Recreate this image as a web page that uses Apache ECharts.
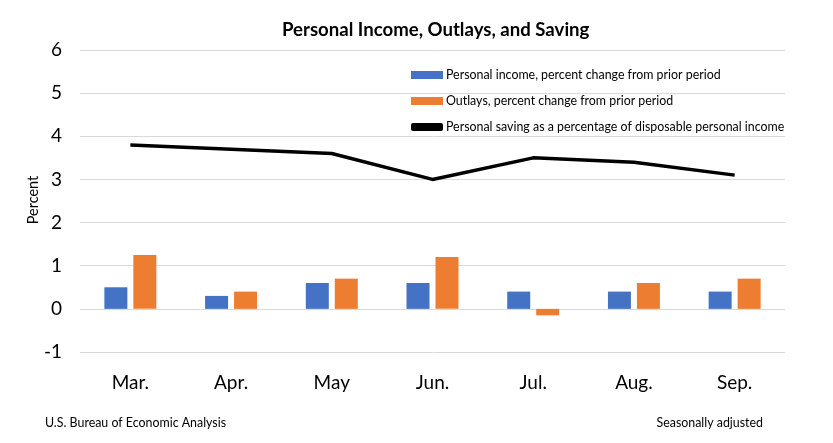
<!DOCTYPE html>
<html><head><meta charset="utf-8">
<script src="https://cdn.jsdelivr.net/npm/echarts@6/dist/echarts.min.js"></script>
<style>html,body{margin:0;padding:0;background:#fff}#c{width:833px;height:443px}</style>
</head><body><div id="c"></div>
<script>
const categories = ['Mar.', 'Apr.', 'May', 'Jun.', 'Jul.', 'Aug.', 'Sep.'];
const incomeChange = [0.5, 0.3, 0.6, 0.6, 0.4, 0.4, 0.4];
const outlaysChange = [1.25, 0.4, 0.7, 1.2, -0.15, 0.6, 0.7];
const savingRate = [3.8, 3.7, 3.6, 3.0, 3.5, 3.4, 3.1];
const yTicks = [-1, 0, 1, 2, 3, 4, 5, 6];

const font = 'Lato, "Open Sans", sans-serif';
const chart = echarts.init(document.getElementById('c'));
chart.setOption({
  animation: false,
  textStyle: { fontFamily: font },
  title: {
    text: 'Personal Income, Outlays, and Saving',
    left: 277, top: 15,
    textStyle: { fontSize: 18.6, fontWeight: 'bold', color: '#000', fontFamily: font }
  },
  graphic: [
    { type: 'text', left: 45, top: 417, style: { text: 'U.S. Bureau of Economic Analysis', fontSize: 12.4, fill: '#000', fontFamily: font } },
    { type: 'text', right: 70, top: 417, style: { text: 'Seasonally adjusted', fontSize: 12.4, fill: '#000', fontFamily: font } },
    { type: 'text', x: 33, y: 200, rotation: Math.PI / 2,
      style: { text: 'Percent', fontSize: 14.5, fill: '#000', fontFamily: font, align: 'center', verticalAlign: 'middle' } }
  ],
  legend: {
    orient: 'vertical', left: 406, top: 64, itemGap: 14,
    itemWidth: 32, itemHeight: 8, 
    textStyle: { fontSize: 12.4, color: '#000', fontFamily: font, padding: [0, 0, 0, -2] },
    data: [
      { name: 'Personal income, percent change from prior period', icon: 'rect' },
      { name: 'Outlays, percent change from prior period', icon: 'rect' },
      { name: 'Personal saving as a percentage of disposable personal income', icon: 'roundRect', itemStyle: { color: '#000' } }
    ]
  },
  grid: { left: 80, right: 48, top: 50, bottom: 91 },
  xAxis: {
    type: 'category', data: categories,
    axisLine: { show: false }, axisTick: { show: false },
    axisLabel: { fontSize: 19, color: '#000', margin: 21, fontFamily: font }
  },
  yAxis: {
    type: 'value', min: yTicks[0], max: yTicks[yTicks.length - 1], interval: 1,
    axisLine: { show: false }, axisTick: { show: false },
    axisLabel: { fontSize: 19, color: '#000', margin: 18, fontFamily: font },
    splitLine: { lineStyle: { color: '#d9d9d9', width: 1 } }
  },
  series: [
    { name: 'Personal income, percent change from prior period', type: 'bar', data: incomeChange,
      itemStyle: { color: '#4472C4' }, barWidth: 23, barGap: '26%' },
    { name: 'Outlays, percent change from prior period', type: 'bar', data: outlaysChange,
      itemStyle: { color: '#ED7D31' }, barWidth: 23 },
    { name: 'Personal saving as a percentage of disposable personal income', type: 'line', data: savingRate,
      symbol: 'none', lineStyle: { color: '#000', width: 3.5 }, itemStyle: { color: '#000' } }
  ]
});
</script></body></html>
